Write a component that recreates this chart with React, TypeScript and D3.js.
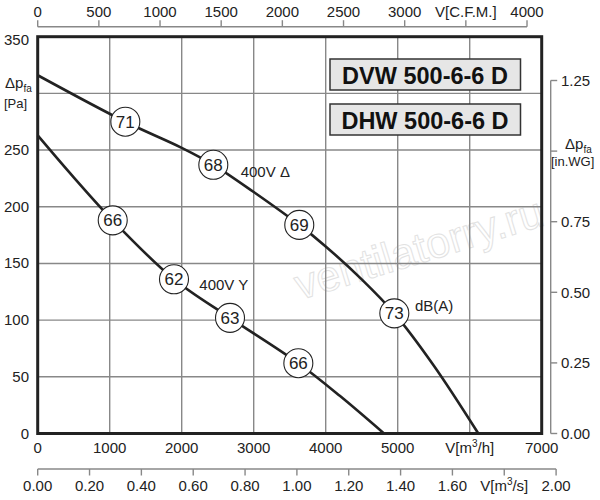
import React from "react";
import * as d3 from "d3";

// Flow in m³/h, pressure in Pa
const curveDelta: [number, number][] = [
  [0, 316], [1217, 275], [2000, 252], [2439, 237], [3000, 213], [3633, 184],
  [4000, 165], [4500, 136], [4953, 106], [5500, 60], [6120, 0],
];
const curveStar: [number, number][] = [
  [0, 263], [500, 226], [1042, 188], [1893, 136], [2671, 102], [3620, 62],
  [4200, 33], [4810, 0],
];
const dbDelta: [number, number, string][] = [
  [1217, 275, "71"], [2439, 237, "68"], [3633, 184, "69"], [4953, 106, "73"],
];
const dbStar: [number, number, string][] = [
  [1042, 188, "66"], [1893, 136, "62"], [2671, 102, "63"], [3620, 62, "66"],
];
const flowTicks = [0, 1000, 2000, 3000, 4000, 5000, 6000, 7000];
const paTicks = [0, 50, 100, 150, 200, 250, 300, 350];
const cfmTicks = [0, 500, 1000, 1500, 2000, 2500, 3000, 3500, 4000];
const m3sTicks = [0, 0.2, 0.4, 0.6, 0.8, 1.0, 1.2, 1.4, 1.6, 1.8, 2.0];
const inwgTicks = [0, 0.25, 0.5, 0.75, 1.0, 1.25];
const titles = ["DVW 500-6-6 D", "DHW 500-6-6 D"];

const CFM = 1.699; // m³/h per CFM
const M3S = 3600; // m³/h per m³/s
const INWG = 249.089; // Pa per in.WG

const FONT = "'Liberation Sans', Arial, sans-serif";
const INK = "#222";
const GRID = "#888";

export default function App() {
  const x = d3.scaleLinear().domain([0, 7000]).range([37.7, 541.7]);
  const y = d3.scaleLinear().domain([0, 350]).range([433.5, 36.7]);
  const line = d3
    .line<[number, number]>()
    .x((d) => x(d[0]))
    .y((d) => y(d[1]))
    .curve(d3.curveCatmullRom.alpha(0.5));

  const topY = 26.7;
  const m3sY = 469;
  const rightX = 550.7;

  return (
    <svg
      width={600}
      height={500}
      style={{ position: "absolute", left: 0, top: 0, background: "#fff" }}
      fontFamily={FONT}
    >
      <rect x={0} y={0} width={600} height={500} fill="#fff" />
      {/* watermark */}
      <text
        x={300}
        y={300}
        transform="rotate(-17 300 300)"
        fontSize={43}
        fill="none"
        stroke="#e2e2e2"
        strokeWidth={1}
      >
        ventilatorry.ru
      </text>

      {/* grid */}
      {flowTicks.slice(1, -1).map((t) => (
        <line key={"vg" + t} x1={x(t)} x2={x(t)} y1={y(350)} y2={y(0)} stroke={GRID} strokeWidth={1.4} />
      ))}
      {paTicks.slice(1, -1).map((t) => (
        <line key={"hg" + t} x1={x(0)} x2={x(7000)} y1={y(t)} y2={y(t)} stroke={GRID} strokeWidth={1.4} />
      ))}

      {/* curves */}
      <path d={line(curveDelta) || ""} fill="none" stroke={INK} strokeWidth={2.6} />
      <path d={line(curveStar) || ""} fill="none" stroke={INK} strokeWidth={2.6} />

      {[...dbDelta, ...dbStar].map(([f, p, s], i) => (
        <g key={"db" + i}>
          <circle cx={x(f)} cy={y(p)} r={14.5} fill="#fff" stroke={INK} strokeWidth={1.1} />
          <text x={x(f)} y={y(p) + 6} textAnchor="middle" fontSize={17} fill={INK}>
            {s}
          </text>
        </g>
      ))}

      <text x={240.7} y={177} fontSize={15} fill={INK}>400V Δ</text>
      <text x={199.3} y={290} fontSize={15} fill={INK}>400V Y</text>
      <text x={415} y={311} fontSize={15} fill={INK}>dB(A)</text>

      {/* plot border */}
      <rect
        x={x(0)}
        y={y(350)}
        width={x(7000) - x(0)}
        height={y(0) - y(350)}
        fill="none"
        stroke={INK}
        strokeWidth={3}
      />

      {/* title boxes */}
      {titles.map((t, i) => (
        <g key={t}>
          <rect x={330} y={59 + i * 45} width={190.5} height={31} fill="#e6e6e6" stroke="#333" strokeWidth={1.5} />
          <text x={425} y={83.5 + i * 45} textAnchor="middle" fontSize={23.5} fontWeight="bold" fill="#111">
            {t}
          </text>
        </g>
      ))}

      {/* left axis labels (300 is replaced by the unit label) */}
      {paTicks
        .filter((t) => t !== 300)
        .map((t) => (
          <text key={"pl" + t} x={29} y={y(t) + (t === 350 ? 8 : 5)} textAnchor="end" fontSize={15} fill={INK}>
            {t}
          </text>
        ))}
      <text x={5} y={88} fontSize={15} fill={INK}>
        Δp<tspan fontSize={10} dy={4}>fa</tspan>
      </text>
      <text x={4} y={108} fontSize={13} fill={INK}>[Pa]</text>

      {/* bottom m³/h labels */}
      {flowTicks.map((t) =>
        t === 6000 ? (
          <text key={"fl" + t} x={x(t)} y={453} textAnchor="middle" fontSize={15} fill={INK}>
            V[m<tspan fontSize={10} dy={-6}>3</tspan><tspan dy={6}>/h]</tspan>
          </text>
        ) : (
          <text key={"fl" + t} x={x(t)} y={453} textAnchor="middle" fontSize={15} fill={INK}>
            {t}
          </text>
        )
      )}

      {/* top CFM axis */}
      <line x1={x(0)} x2={x(4000 * CFM)} y1={topY} y2={topY} stroke={GRID} strokeWidth={1.4} />
      {cfmTicks.map((t) => (
        <g key={"cf" + t}>
          <line x1={x(t * CFM)} x2={x(t * CFM)} y1={topY - 6.5} y2={topY} stroke={GRID} strokeWidth={1.4} />
          <text x={x(t * CFM)} y={17} textAnchor="middle" fontSize={15} fill={INK}>
            {t === 3500 ? "V[C.F.M.]" : t}
          </text>
        </g>
      ))}

      {/* bottom m³/s axis */}
      <line x1={x(0)} x2={x(2 * M3S)} y1={m3sY} y2={m3sY} stroke={GRID} strokeWidth={1.4} />
      {m3sTicks.map((t) => (
        <g key={"ms" + t}>
          <line x1={x(t * M3S)} x2={x(t * M3S)} y1={m3sY} y2={m3sY + 6.5} stroke={GRID} strokeWidth={1.4} />
          {Math.abs(t - 1.8) < 1e-9 ? (
            <text x={x(t * M3S)} y={491} textAnchor="middle" fontSize={15} fill={INK}>
              V[m<tspan fontSize={10} dy={-6}>3</tspan><tspan dy={6}>/s]</tspan>
            </text>
          ) : (
            <text x={x(t * M3S)} y={491} textAnchor="middle" fontSize={15} fill={INK}>
              {t.toFixed(2)}
            </text>
          )}
        </g>
      ))}

      {/* right in.WG axis */}
      <line x1={rightX} x2={rightX} y1={y(1.25 * INWG)} y2={y(0)} stroke={GRID} strokeWidth={1.4} />
      {inwgTicks.map((t) => (
        <g key={"iw" + t}>
          <line x1={rightX} x2={rightX + 6.5} y1={y(t * INWG)} y2={y(t * INWG)} stroke={GRID} strokeWidth={1.4} />
          {t !== 1.0 && (
            <text x={561} y={y(t * INWG) + 5.5} fontSize={15} fill={INK}>
              {t.toFixed(2)}
            </text>
          )}
        </g>
      ))}
      <text x={565} y={149} fontSize={15} fill={INK}>
        Δp<tspan fontSize={10} dy={4}>fa</tspan>
      </text>
      <text x={551} y={166} fontSize={13} fill={INK}>[in.WG]</text>
    </svg>
  );
}
